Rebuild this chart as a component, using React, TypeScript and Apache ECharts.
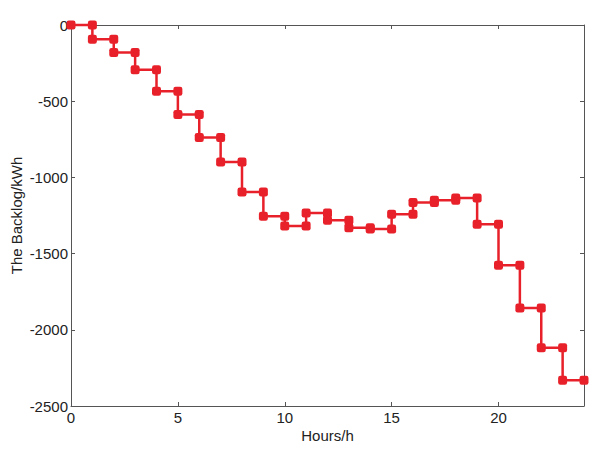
import React, { useEffect, useRef } from "react";
import * as echarts from "echarts";

const hours = [0, 1, 2, 3, 4, 5, 6, 7, 8, 9, 10, 11, 12, 13, 14, 15, 16, 17, 18, 19, 20, 21, 22, 23, 24];
// backlog level held during hour k -> k+1
const backlog = [
  0, -94, -181, -293, -435, -588, -739, -899, -1096, -1255, -1319, -1233,
  -1281, -1330, -1338, -1242, -1165, -1150, -1135, -1308, -1577, -1857, -2117, -2331,
];
const xTicks = [0, 5, 10, 15, 20];
const yTicks = [0, -500, -1000, -1500, -2000, -2500];

export default function App() {
  const ref = useRef<HTMLDivElement>(null);
  useEffect(() => {
    if (!ref.current) return;
    const chart = echarts.init(ref.current, null, { renderer: "svg" });
    const pts: number[][] = [];
    for (let k = 0; k < backlog.length; k++) {
      pts.push([hours[k], backlog[k]]);
      pts.push([hours[k + 1], backlog[k]]);
    }
    const axisColor = "#555";
    const font = "Liberation Sans";
    const fs = 15;
    chart.setOption({
      animation: false,
      backgroundColor: "#fff",
      grid: { left: 71, right: 28, top: 25, bottom: 45, containLabel: false, outerBoundsMode: "none" },
      xAxis: [
        {
          type: "value",
          min: xTicks[0],
          max: 24,
          interval: 5,
          name: "Hours/h",
          nameLocation: "middle",
          nameGap: 22,
          nameMoveOverlap: false,
          nameTextStyle: { color: "#222", fontSize: fs, fontFamily: font },
          axisLine: { show: true, onZero: false, lineStyle: { color: axisColor, width: 1 } },
          axisTick: { show: true, inside: true, length: 4, lineStyle: { color: axisColor } },
          axisLabel: { color: "#222", fontSize: fs, fontFamily: font, margin: 4, showMaxLabel: false },
          splitLine: { show: false },
        },
        {
          type: "value",
          position: "top",
          min: 0,
          max: 24,
          interval: 5,
          axisLine: { show: true, onZero: false, lineStyle: { color: axisColor, width: 1 } },
          axisTick: { show: true, inside: true, length: 4, lineStyle: { color: axisColor } },
          axisLabel: { show: false },
          splitLine: { show: false },
        },
      ],
      yAxis: [
        {
          type: "value",
          min: yTicks[yTicks.length - 1],
          max: yTicks[0],
          interval: 500,
          name: "The Backlog/kWh",
          nameLocation: "middle",
          nameGap: 47,
          nameMoveOverlap: false,
          nameTextStyle: { color: "#222", fontSize: fs, fontFamily: font },
          axisLine: { show: true, onZero: false, lineStyle: { color: axisColor, width: 1 } },
          axisTick: { show: true, inside: true, length: 4, lineStyle: { color: axisColor } },
          axisLabel: { color: "#222", fontSize: fs, fontFamily: font, margin: 3, formatter: (v: number) => String(v) },
          splitLine: { show: false },
        },
        {
          type: "value",
          position: "right",
          min: -2500,
          max: 0,
          interval: 500,
          axisLine: { show: true, onZero: false, lineStyle: { color: axisColor, width: 1 } },
          axisTick: { show: true, inside: true, length: 4, lineStyle: { color: axisColor } },
          axisLabel: { show: false },
          splitLine: { show: false },
        },
      ],
      series: [
        {
          type: "line",
          data: pts,
          xAxisIndex: 0,
          yAxisIndex: 0,
          symbol: "roundRect",
          symbolSize: 9,
          showAllSymbol: true,
          clip: false,
          lineStyle: { color: "#e8202a", width: 2.5 },
          itemStyle: { color: "#e8202a" },
        },
      ],
    });
    return () => chart.dispose();
  }, []);
  return (
    <div
      ref={ref}
      style={{ position: "absolute", left: 0, top: 0, width: 612, height: 451 }}
    />
  );
}
